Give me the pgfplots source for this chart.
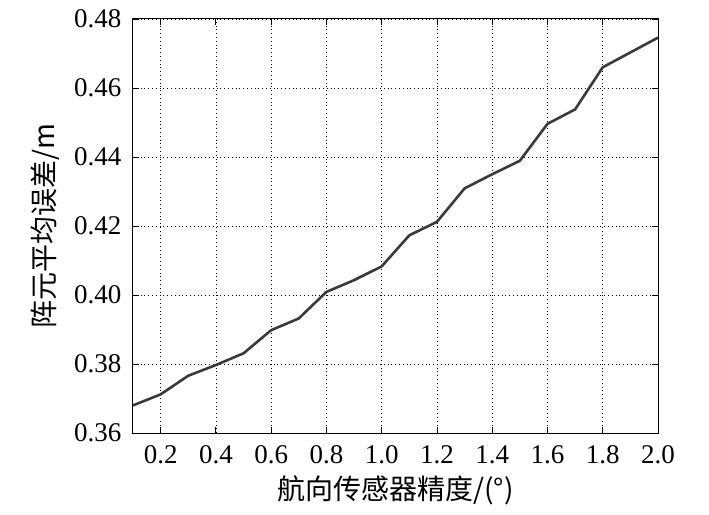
\documentclass[border=0pt]{standalone}
\usepackage{fontspec}
\setmainfont{Liberation Serif}
\newfontfamily\cjk{Noto Sans CJK SC}
\usepackage{pgfplots}
\pgfplotsset{compat=1.18}
\definecolor{lineink}{HTML}{3A3A3A}
\begin{document}
\begin{tikzpicture}[x=1pt,y=1pt]
\useasboundingbox (-133,-81) rectangle (576,433);
\begin{axis}[
  at={(0,0)}, anchor=south west,
  scale only axis, width=525pt, height=414pt,
  xmin=0.1, xmax=2.0, ymin=0.36, ymax=0.48,
  xtick={0.2,0.4,...,2.01},
  ytick={0.36,0.38,...,0.481},
  /pgf/number format/assume math mode=true,
  xticklabel style={/pgf/number format/fixed, /pgf/number format/fixed zerofill,
    /pgf/number format/precision=1, yshift=-9pt},
  yticklabel style={/pgf/number format/fixed, /pgf/number format/fixed zerofill,
    /pgf/number format/precision=2, xshift=-8pt},
  ticklabel style={font=\fontsize{27}{30}\selectfont},
  tick align=inside, major tick length=6pt,
  tick style={black, line width=0.8pt},
  axis line style={black, line width=1pt},
  grid=major, grid style={black, line width=0.7pt, dash pattern=on 0.8pt off 3pt},
  xlabel={\cjk 航向传感器精度/(°)},
  ylabel={\cjk 阵元平均误差/m},
  label style={font=\fontsize{28}{32}\selectfont},
  xlabel style={at={(axis description cs:0.5,-0.138)}, anchor=center},
  ylabel style={at={(axis description cs:-0.168,0.5)}, anchor=center},
]
\addplot[lineink, line width=2.6pt, line join=round] coordinates {
  (0.1,0.3680) (0.2,0.3712) (0.3,0.3766) (0.4,0.3797) (0.5,0.3831)
  (0.6,0.3898) (0.7,0.3932) (0.8,0.4009) (0.9,0.4043) (1.0,0.4083)
  (1.1,0.4173) (1.2,0.4212) (1.3,0.4309) (1.4,0.4350) (1.5,0.4389)
  (1.6,0.4496) (1.7,0.4538) (1.8,0.4660) (1.9,0.4703) (2.0,0.4746)
};
\end{axis}
\end{tikzpicture}
\end{document}
